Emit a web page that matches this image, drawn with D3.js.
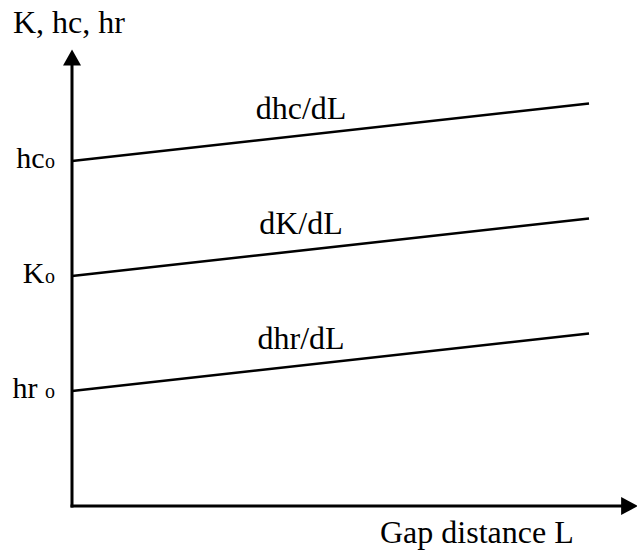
<!DOCTYPE html>
<html><head><meta charset="utf-8">
<script src="https://cdn.jsdelivr.net/npm/d3@7"></script>
<style>body{margin:0;background:#fff}svg{display:block}text{font-family:"Liberation Serif","Times New Roman",serif;fill:#000}</style>
</head><body>
<script>
const seriesNames = ["dhc/dL", "dK/dL", "dhr/dL"];
const tickLabels = [["hc", "o"], ["K", "o"], ["hr", "o"]];
const startValues = [3, 2, 1];
const endValues = [3.5, 2.5, 1.5];
const xValues = [0, 1];
const yAxisTitle = "K, hc, hr";
const xAxisTitle = "Gap distance L";

const W = 637, H = 550;
const svg = d3.select("body").append("svg").attr("width", W).attr("height", H);
const x = d3.scaleLinear().domain([0, 1]).range([72, 589]);
const y = d3.scaleLinear().domain([0, 4]).range([506, 46]);

// axes
svg.append("line").attr("x1", x(0)).attr("x2", x(0)).attr("y1", y(0) + 1.5).attr("y2", y(3.85))
  .attr("stroke", "#000").attr("stroke-width", 3);
svg.append("path").attr("d", `M${x(0)},${y(3.97)} L${x(0) - 9},${y(3.83)} L${x(0) + 9},${y(3.83)} Z`).attr("fill", "#000");
svg.append("line").attr("x1", x(0) - 1.5).attr("x2", x(1.07)).attr("y1", y(0)).attr("y2", y(0))
  .attr("stroke", "#000").attr("stroke-width", 3);
svg.append("path").attr("d", `M${x(1.095)},${y(0)} L${x(1.095) - 17},${y(0) - 9} L${x(1.095) - 17},${y(0) + 9} Z`).attr("fill", "#000");

// lines
const line = d3.line().x(d => x(d[0])).y(d => y(d[1]));
seriesNames.forEach((name, i) => {
  const pts = xValues.map((xv, j) => [xv, j === 0 ? startValues[i] : endValues[i]]);
  svg.append("path").attr("d", line(pts)).attr("fill", "none").attr("stroke", "#000").attr("stroke-width", 2.6);
  const lx = 0.443;
  const ly = startValues[i] + (endValues[i] - startValues[i]) * lx;
  svg.append("text").attr("x", x(lx)).attr("y", y(ly) - 17).attr("text-anchor", "middle")
    .attr("font-size", 32).text(name);
  const t = svg.append("text").attr("x", x(0) - 17).attr("y", y(startValues[i]) + 7).attr("text-anchor", "end").attr("font-size", 30);
  t.append("tspan").text(tickLabels[i][0] + (i === 2 ? " " : ""));
  t.append("tspan").attr("font-size", 20).attr("dx", i === 2 ? 0 : 0.5).text(tickLabels[i][1]);
});

svg.append("text").attr("x", 13).attr("y", 33).attr("font-size", 32).text(yAxisTitle);
svg.append("text").attr("x", 380).attr("y", 543).attr("font-size", 32).text(xAxisTitle);
</script>
</body></html>
